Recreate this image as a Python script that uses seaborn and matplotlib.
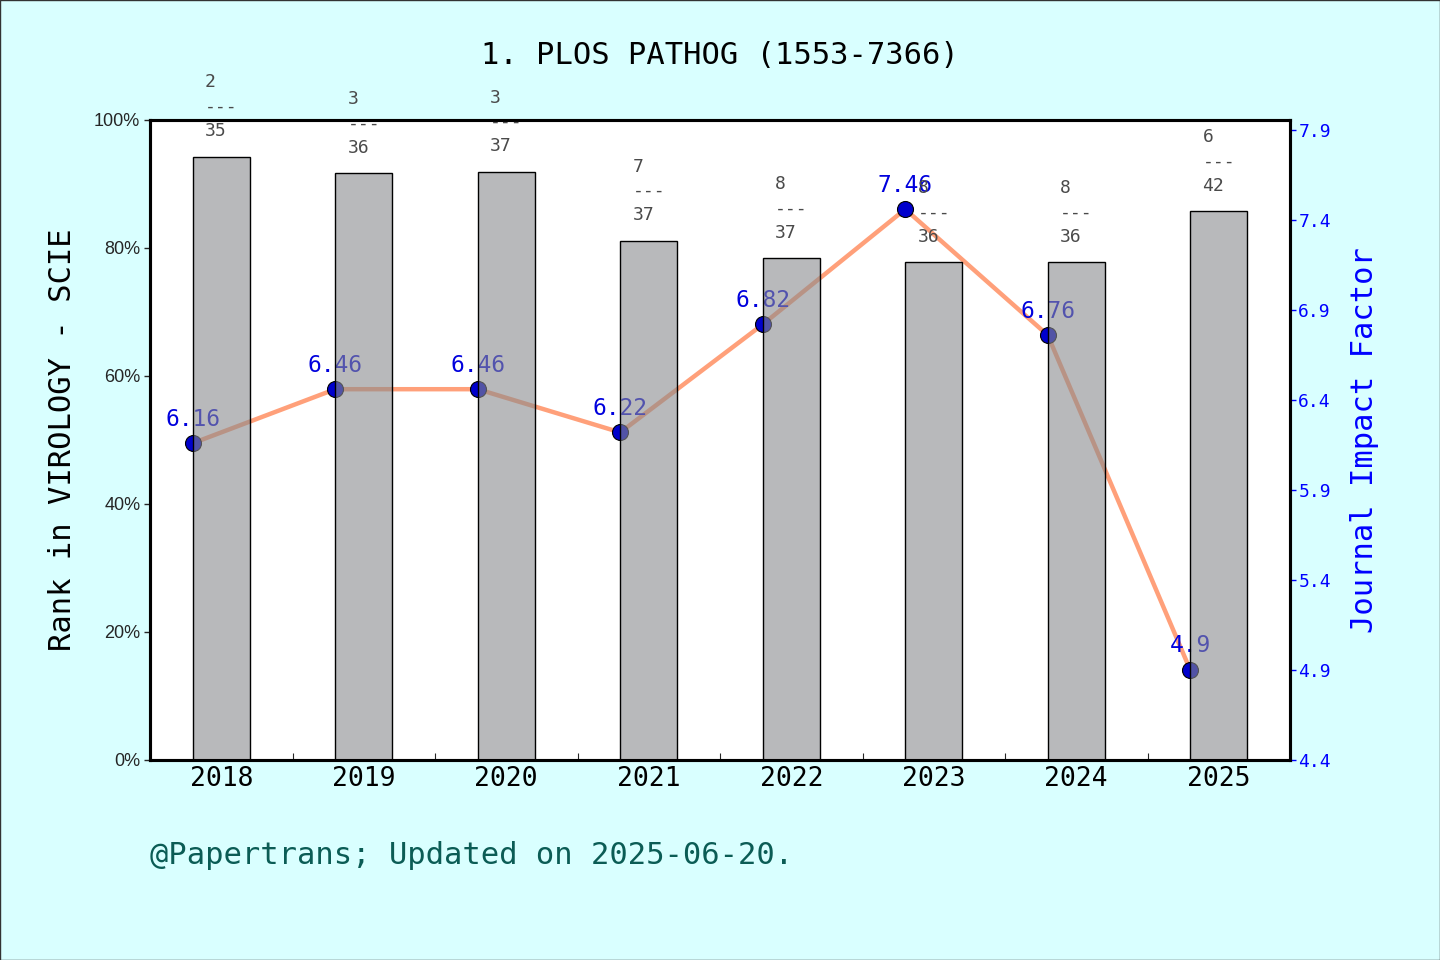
"""
Rank + impact factor chart for one journal.
Bars: rank percentile in category (left axis), line: JIF (right axis).
"""

import numpy as np
import pandas as pd
import seaborn as sns
import matplotlib.pyplot as plt
from matplotlib.ticker import FixedLocator, PercentFormatter

years = ['2018', '2019', '2020', '2021', '2022', '2023', '2024', '2025']
rank = [2, 3, 3, 7, 8, 8, 8, 6]
total = [35, 36, 37, 37, 37, 36, 36, 42]
jif = [6.16, 6.46, 6.46, 6.22, 6.82, 7.46, 6.76, 4.9]

title = '1. PLOS PATHOG (1553-7366)'
left_label = 'Rank in VIROLOGY - SCIE'
right_label = 'Journal Impact Factor'
footer = '@Papertrans; Updated on 2025-06-20.'

df = pd.DataFrame({'year': years, 'rank': rank, 'total': total, 'jif': jif})
df['pct'] = 1 - df['rank'] / df['total']
df['pos'] = np.arange(len(df))

sns.set_style('white')
mono = 'DejaVu Sans Mono'
plt.rcParams['font.family'] = [mono]

fig = plt.figure(figsize=(14.4, 9.6), dpi=100, facecolor='#d9ffff')
fig.patches.append(plt.Rectangle((0, 0), 1, 1, transform=fig.transFigure,
                                 fill=False, edgecolor='#333333', linewidth=1))

# IF axes underneath, rank bars on top (so bars veil the line a bit)
ax_if = fig.add_axes([150 / 1440, 1 - 760 / 960, 1140 / 1440, 640 / 960])
ax_if.set_facecolor('white')
ax_rank = ax_if.twinx()

# line + markers, placed at the left edge of each bar
sns.lineplot(x=df['pos'] - 0.2, y=df['jif'], ax=ax_if, color='#ffa07a',
             linewidth=3.2, zorder=2)
ax_if.plot(df['pos'] - 0.2, df['jif'], linestyle='none', marker='o',
           markersize=11.5, markerfacecolor='#0000cc', markeredgecolor='black',
           markeredgewidth=0.8, zorder=3)
for x, v in zip(df['pos'] - 0.2, df['jif']):
    ax_if.annotate(str(v), (x, v), xytext=(0, 9), textcoords='offset points',
                   ha='center', va='bottom', color='#0000dd', fontsize=16.5,
                   family=mono, zorder=4)

sns.barplot(x=df['pos'], y=df['pct'], ax=ax_rank, width=0.4, native_scale=True,
            color='#8a8b8e', edgecolor='black', linewidth=1)
for p in ax_rank.patches:
    p.set_facecolor((0.54, 0.545, 0.557, 0.6))
    p.set_edgecolor('black')
for x, pc, r, t in zip(df['pos'], df['pct'], df['rank'], df['total']):
    ax_rank.annotate(f'{r}\n---\n{t}', (x, pc), xytext=(0, 12),
                     textcoords='offset points', ha='center', va='bottom',
                     multialignment='left', color='#4a4a4a', fontsize=13,
                     family=mono, linespacing=1.45,
                     annotation_clip=False)

# swap sides: rank on left, IF on right
ax_rank.yaxis.tick_left()
ax_rank.yaxis.set_label_position('left')
ax_if.yaxis.tick_right()
ax_if.yaxis.set_label_position('right')

ax_rank.set_ylim(0, 1)
ax_rank.yaxis.set_major_locator(FixedLocator([0, 0.2, 0.4, 0.6, 0.8, 1.0]))
ax_rank.yaxis.set_major_formatter(PercentFormatter(1.0, decimals=0))
ax_rank.tick_params(axis='y', which='major', direction='out', length=4,
                    width=1, labelsize=13, left=True, right=False, pad=3)
for lab in ax_rank.get_yticklabels():
    lab.set_family('Liberation Sans')
ax_rank.set_ylabel(left_label, fontsize=22, color='black', labelpad=12)

if_ticks = [4.4, 4.9, 5.4, 5.9, 6.4, 6.9, 7.4, 7.9]
ax_if.set_ylim(4.4, 4.4 + 3.5 * 640 / 630)
ax_if.yaxis.set_major_locator(FixedLocator(if_ticks))
ax_if.set_yticklabels([f'{t:.1f}' for t in if_ticks])
ax_if.tick_params(axis='y', direction='out', length=4, width=1, colors='blue',
                  labelsize=13, right=True, left=False, pad=2)
ax_if.set_ylabel(right_label, fontsize=22, color='blue', labelpad=14)

# x axis lives on the bottom (IF) axes; twin x axis stays hidden
ax_rank.set_xlabel('')
ax_if.set_xlim(-0.5, len(years) - 0.5)
ax_if.set_xticks(df['pos'])
ax_if.set_xticklabels(years)
ax_if.set_xticks(df['pos'][:-1] + 0.5, minor=True)
ax_if.tick_params(axis='x', which='major', length=0, labelsize=19, pad=4,
                  bottom=True, labelbottom=True, colors='black')
ax_if.tick_params(axis='x', which='minor', direction='in', length=5,
                  width=0.8, bottom=True)
ax_if.set_xlabel('')

for a in (ax_if, ax_rank):
    for s in a.spines.values():
        s.set_visible(True)
        s.set_color('black')
        s.set_linewidth(2.2)

fig.text(0.5, 1 - 56 / 960, title, ha='center', va='center', fontsize=22,
         color='black')
fig.text(150 / 1440, 1 - 855 / 960, footer, ha='left', va='center',
         fontsize=22, color='#0b5c55')

fig.savefig('out.png', dpi=100, facecolor=fig.get_facecolor())
